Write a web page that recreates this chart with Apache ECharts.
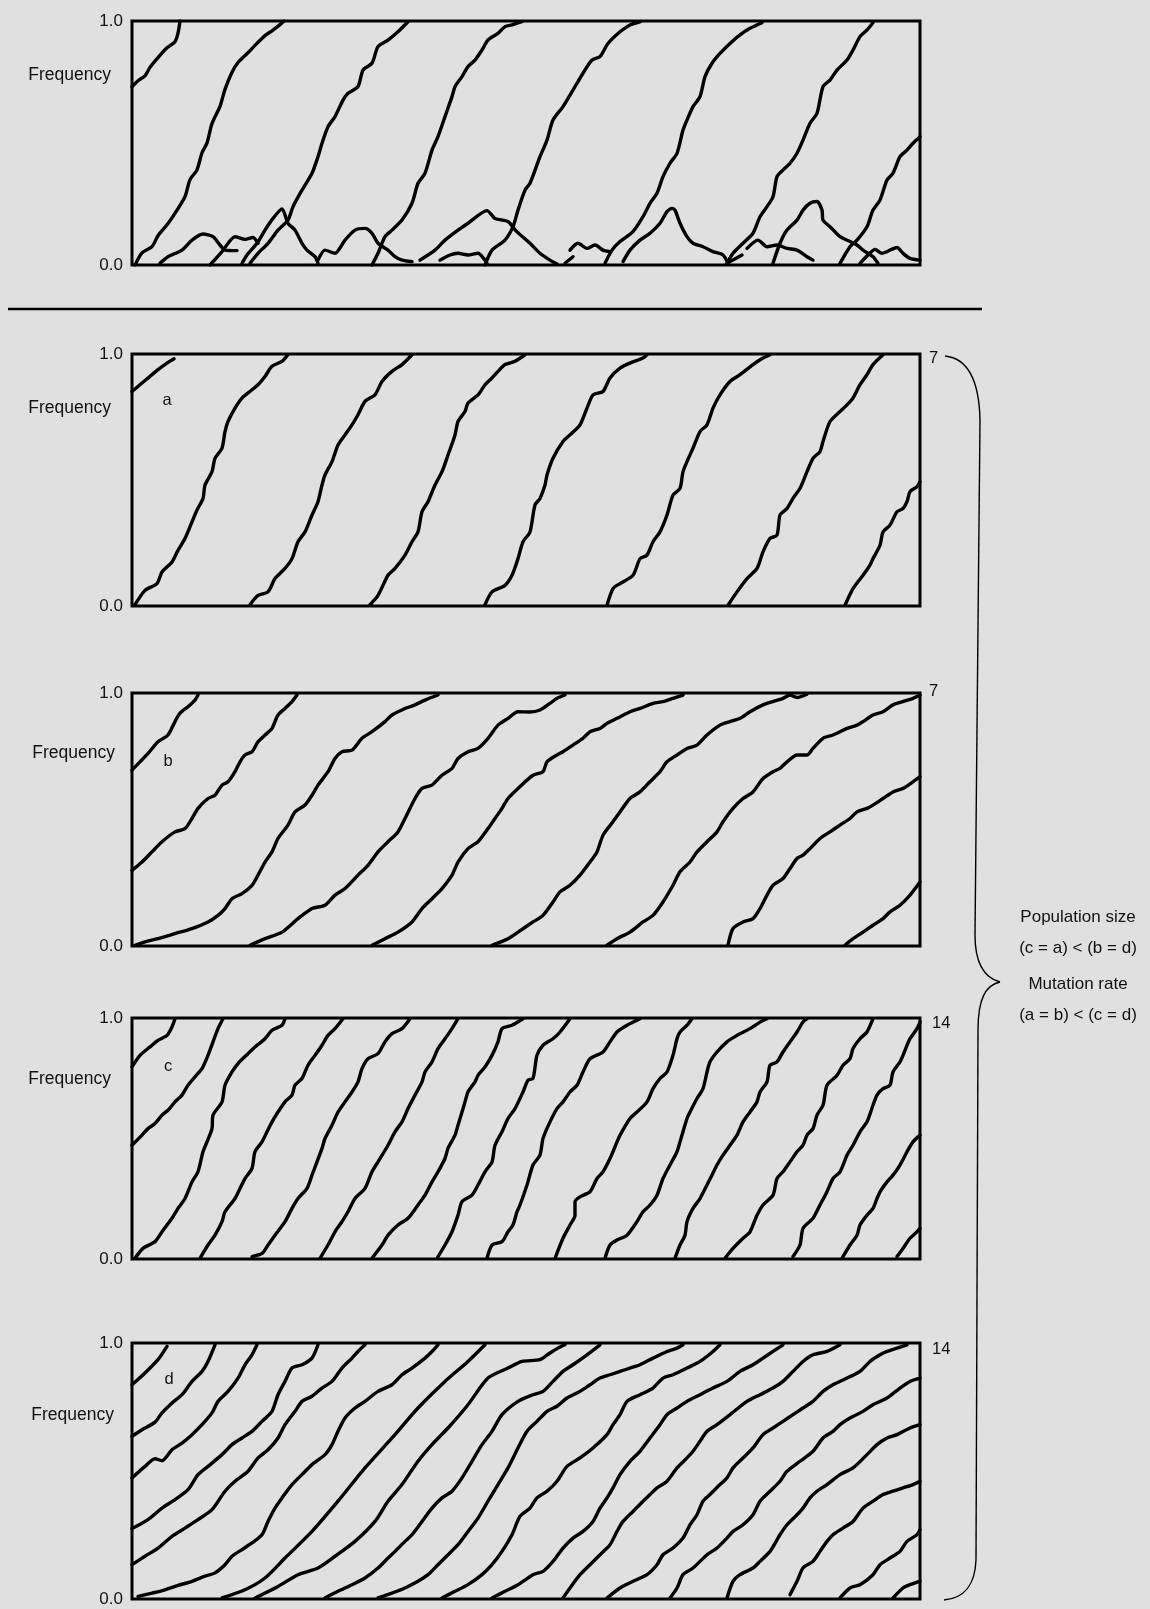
<!DOCTYPE html>
<html><head><meta charset="utf-8">
<style>html,body{margin:0;padding:0;background:#e0e0e0}#c{width:1150px;height:1609px}</style>
<script src="https://cdn.jsdelivr.net/npm/echarts/dist/echarts.min.js"></script>
</head><body><div id="c"></div>
<script>
// x = generations (arbitrary units across the panel), y = allele frequency
const topSweeps = [
[[0,.73],[6,.755],[13,.775],[18,.81],[26,.85],[35,.89],[43,.915],[46,.95],[48,1]],
[[3,0],[10,.05],[20,.075],[26,.12],[36,.17],[45,.225],[53,.28],[58,.35],[65,.39],[70,.46],[75,.5],[80,.58],[88,.65],[93,.72],[100,.79],[106,.83],[116,.87],[123,.9],[133,.94],[140,.96],[148,.985],[152,1]],
[[118,.007],[126,.048],[136,.089],[146,.143],[156,.184],[161,.239],[170,.307],[180,.376],[186,.444],[190,.499],[196,.567],[203,.608],[211,.676],[216,.704],[226,.731],[231,.799],[240,.827],[246,.895],[256,.922],[266,.956],[276,.997]],
[[240,0],[246,.048],[253,.116],[260,.143],[270,.184],[280,.253],[286,.335],[293,.376],[300,.471],[306,.526],[313,.608],[320,.69],[323,.731],[330,.772],[336,.813],[343,.84],[350,.881],[356,.922],[366,.949],[373,.977],[380,.984],[390,.997]],
[[353,0],[360,.061],[373,.102],[381,.157],[386,.225],[393,.307],[398,.335],[408,.444],[415,.512],[421,.594],[431,.649],[441,.717],[451,.786],[460,.84],[468,.854],[476,.908],[488,.956],[498,.984],[508,.997]],
[[473,.007],[480,.061],[488,.096],[501,.137],[511,.198],[518,.253],[525,.294],[531,.362],[538,.417],[545,.458],[551,.553],[555,.594],[561,.649],[568,.69],[573,.772],[580,.827],[588,.867],[598,.908],[608,.943],[618,.97],[630,.993]],
[[595,.007],[601,.048],[611,.089],[621,.13],[628,.198],[635,.239],[641,.28],[645,.362],[651,.389],[658,.417],[665,.458],[671,.512],[678,.581],[685,.622],[691,.731],[698,.758],[705,.799],[715,.84],[721,.881],[728,.936],[735,.963],[741,.993]],
[[708,.007],[718,.075],[725,.102],[735,.157],[741,.225],[748,.266],[755,.348],[761,.376],[768,.444],[775,.471],[781,.499],[788,.526]]
];
const topBumps = [
[[28,.007],[36,.034],[50,.061],[60,.102],[71,.127],[81,.116],[88,.082],[93,.061],[105,.059]],
[[78,0],[90,.055],[103,.116],[113,.105],[121,.113],[126,.089]],
[[110,.007],[115,.041],[125,.089],[133,.143],[141,.191],[150,.23],[156,.171],[163,.143],[170,.089],[175,.061],[183,.034],[186,.007]],
[[186,.02],[193,.061],[203,.048],[213,.102],[223,.143],[233,.15],[240,.13],[246,.089],[256,.061],[263,.034],[270,.02],[280,.014]],
[[288,.02],[303,.061],[313,.102],[326,.143],[336,.171],[355,.223],[363,.191],[376,.178],[384,.14],[398,.089],[408,.048],[418,.02],[425,.004]],
[[308,.02],[318,.041],[326,.048],[336,.041],[346,.048],[353,.02],[355,.007]],
[[433,.007],[441,.034]],
[[438,.061],[446,.089],[455,.068],[463,.082],[471,.061],[478,.055]],
[[491,.014],[498,.061],[508,.102],[518,.13],[528,.171],[535,.219],[540,.232],[543,.225],[548,.171],[555,.116],[561,.089],[571,.075],[581,.055],[591,.041],[596,.007]],
[[595,.007],[610,.041]],
[[615,.068],[626,.102],[635,.075],[645,.082],[655,.068],[665,.061],[675,.034],[681,.02]],
[[641,.007],[648,.089],[655,.143],[665,.184],[671,.225],[678,.253],[685,.26],[690,.225],[691,.184],[698,.157],[708,.116],[718,.096],[725,.082],[731,.061],[741,.034],[746,.007]],
[[728,.007],[736,.041],[743,.064],[750,.048],[755,.055],[765,.072],[771,.048],[778,.027],[788,.02]]
];
const panelA = [
[[0,.851],[10,.885],[18,.911],[26,.938],[35,.964],[42,.981]],
[[3,.005],[13,.062],[25,.089],[30,.135],[40,.175],[46,.221],[53,.268],[60,.334],[65,.381],[71,.427],[73,.48],[80,.533],[83,.586],[90,.626],[93,.692],[96,.732],[103,.785],[110,.825],[120,.858],[126,.878],[133,.911],[140,.951],[150,.971],[156,.997]],
[[118,.005],[126,.042],[136,.056],[143,.109],[153,.149],[160,.188],[166,.255],[173,.294],[180,.361],[186,.414],[190,.48],[193,.52],[200,.573],[206,.639],[213,.679],[220,.719],[226,.759],[233,.812],[243,.838],[250,.891],[260,.931],[270,.958],[280,.997]],
[[238,.005],[246,.042],[256,.122],[263,.149],[273,.202],[280,.255],[286,.294],[290,.374],[296,.414],[303,.48],[310,.533],[316,.599],[323,.679],[326,.732],[333,.772],[336,.805],[346,.838],[353,.878],[360,.905],[366,.931],[373,.958],[383,.971],[393,.997]],
[[353,.005],[360,.056],[373,.082],[380,.122],[386,.188],[391,.255],[398,.294],[403,.401],[408,.427],[413,.48],[415,.52],[421,.586],[431,.653],[438,.679],[448,.719],[455,.785],[461,.838],[471,.851],[478,.905],[488,.944],[498,.964],[511,.984],[515,.997]],
[[475,.003],[481,.069],[488,.089],[501,.122],[508,.188],[515,.202],[521,.255],[528,.294],[535,.361],[541,.44],[548,.467],[551,.533],[555,.573],[561,.626],[568,.692],[575,.719],[581,.785],[588,.838],[598,.891],[608,.918],[621,.958],[631,.984],[638,.997]],
[[596,.003],[605,.056],[615,.109],[625,.149],[631,.215],[638,.268],[645,.281],[648,.361],[655,.387],[661,.427],[668,.467],[675,.533],[681,.586],[688,.613],[691,.653],[698,.732],[708,.772],[715,.798],[721,.825],[728,.878],[735,.918],[741,.958],[751,.997]],
[[713,.003],[721,.069],[731,.122],[738,.162],[741,.188],[748,.241],[751,.294],[758,.321],[765,.374],[771,.387],[775,.414],[778,.454],[785,.473],[788,.493]]
];
const panelB = [
[[0,.695],[8,.728],[16,.761],[26,.807],[36,.834],[43,.887],[48,.92],[56,.946],[63,.972],[66,.992]],
[[0,.299],[10,.332],[20,.372],[30,.412],[43,.451],[53,.464],[60,.504],[66,.544],[76,.583],[83,.596],[90,.636],[96,.649],[103,.689],[108,.728],[113,.755],[120,.768],[126,.807],[133,.834],[140,.86],[146,.913],[153,.939],[160,.966],[165,.992]],
[[3,.003],[13,.016],[26,.029],[43,.049],[60,.069],[76,.095],[86,.121],[93,.148],[100,.187],[110,.207],[120,.24],[126,.28],[133,.332],[140,.372],[146,.425],[156,.478],[163,.53],[173,.557],[180,.596],[186,.636],[196,.689],[203,.741],[210,.768],[220,.774],[230,.821],[240,.847],[253,.887],[260,.913],[273,.939],[283,.953],[293,.972],[306,.992]],
[[118,.003],[133,.029],[150,.055],[166,.108],[180,.148],[193,.161],[203,.201],[213,.227],[226,.28],[236,.319],[246,.372],[256,.412],[266,.451],[273,.504],[283,.583],[290,.623],[300,.636],[310,.675],[320,.702],[326,.741],[336,.768],[346,.781],[356,.821],[366,.873],[376,.9],[386,.926],[398,.925],[408,.933],[418,.959],[425,.979],[433,.992]],
[[240,.003],[253,.029],[266,.055],[280,.095],[290,.148],[300,.187],[310,.227],[320,.28],[326,.332],[336,.385],[346,.412],[356,.464],[363,.504],[370,.544],[376,.583],[386,.623],[401,.675],[411,.689],[415,.728],[425,.755],[431,.768],[441,.794],[451,.821],[458,.847],[468,.86],[475,.88],[485,.9],[498,.926],[508,.939],[521,.959],[531,.966],[541,.979],[551,.992]],
[[360,.003],[376,.029],[386,.055],[401,.095],[411,.121],[421,.174],[428,.214],[438,.24],[448,.28],[458,.332],[465,.372],[471,.438],[481,.491],[488,.53],[498,.583],[508,.609],[518,.649],[528,.689],[535,.728],[545,.755],[555,.781],[565,.794],[575,.834],[588,.873],[598,.887],[608,.9],[618,.926],[631,.953],[641,.966],[651,.979],[658,.992],[665,.982],[675,.995]],
[[475,.003],[485,.029],[498,.055],[511,.095],[521,.121],[531,.174],[541,.24],[548,.293],[558,.332],[565,.372],[575,.412],[585,.451],[591,.491],[601,.544],[611,.583],[621,.609],[631,.662],[641,.689],[648,.702],[655,.728],[665,.755],[675,.755],[681,.781],[691,.821],[701,.834],[715,.86],[725,.873],[731,.887],[741,.913],[751,.926],[761,.953],[771,.966],[781,.979],[788,.992]],
[[596,.003],[601,.069],[611,.095],[621,.108],[628,.148],[635,.201],[641,.24],[651,.267],[658,.306],[665,.346],[671,.359],[678,.385],[688,.425],[698,.451],[708,.478],[718,.504],[725,.53],[735,.544],[741,.557],[751,.583],[761,.609],[771,.623],[781,.649],[788,.669]],
[[713,.003],[721,.029],[731,.055],[741,.082],[751,.108],[758,.135],[768,.161],[778,.201],[788,.253]]
];
const panelC = [
[[0,.797],[8,.845],[18,.88],[26,.907],[35,.928],[40,.963],[43,.997]],
[[0,.472],[10,.514],[16,.541],[23,.562],[30,.597],[36,.617],[43,.652],[50,.68],[56,.721],[63,.756],[70,.79],[76,.845],[81,.901],[86,.956],[91,.997]],
[[3,.003],[11,.044],[23,.072],[30,.113],[40,.169],[46,.21],[53,.251],[60,.32],[66,.362],[71,.445],[75,.486],[80,.541],[81,.597],[90,.652],[93,.721],[100,.776],[106,.811],[116,.852],[123,.88],[133,.914],[140,.949],[150,.97],[153,.997]],
[[68,.003],[76,.058],[83,.099],[90,.155],[93,.196],[103,.251],[108,.293],[113,.334],[120,.376],[123,.445],[130,.486],[135,.528],[140,.569],[146,.61],[153,.652],[160,.68],[163,.721],[170,.749],[176,.804],[183,.845],[190,.887],[196,.928],[203,.956],[211,.997]],
[[120,.01],[130,.023],[136,.058],[143,.099],[153,.155],[160,.21],[166,.251],[175,.293],[180,.348],[185,.403],[190,.459],[193,.5],[200,.555],[206,.61],[213,.652],[220,.693],[226,.735],[230,.79],[236,.831],[246,.852],[253,.901],[260,.935],[270,.956],[278,.997]],
[[188,.003],[196,.058],[203,.113],[210,.155],[216,.196],[223,.251],[233,.293],[240,.362],[246,.403],[256,.472],[263,.528],[270,.569],[276,.624],[283,.68],[290,.735],[293,.776],[300,.818],[306,.873],[313,.914],[320,.956],[326,.997]],
[[240,.003],[250,.058],[256,.099],[266,.141],[276,.169],[286,.224],[293,.265],[300,.32],[306,.362],[313,.417],[316,.459],[323,.514],[326,.555],[330,.61],[333,.652],[336,.693],[343,.735],[346,.762],[353,.797],[360,.845],[366,.901],[370,.956],[380,.97],[391,.997]],
[[305,.003],[313,.058],[320,.113],[326,.182],[330,.238],[340,.265],[346,.307],[353,.362],[360,.403],[363,.472],[370,.528],[376,.583],[383,.624],[391,.693],[396,.742],[401,.749],[405,.845],[411,.887],[421,.914],[428,.942],[438,.997]],
[[355,.003],[360,.058],[370,.072],[376,.113],[381,.141],[385,.196],[388,.224],[395,.307],[401,.39],[408,.431],[411,.5],[418,.569],[425,.624],[431,.652],[438,.693],[445,.721],[451,.776],[458,.831],[471,.859],[478,.901],[485,.942],[495,.97],[508,.997]],
[[423,.003],[431,.086],[438,.141],[443,.182],[443,.238],[448,.258],[458,.279],[465,.334],[471,.362],[478,.417],[485,.486],[488,.514],[498,.583],[505,.61],[515,.652],[521,.707],[528,.749],[535,.776],[541,.845],[545,.914],[548,.942],[555,.97],[560,.997]],
[[473,.003],[478,.058],[485,.079],[495,.099],[505,.155],[511,.196],[518,.224],[525,.265],[531,.334],[538,.39],[545,.445],[548,.486],[551,.528],[555,.583],[558,.61],[565,.666],[571,.707],[575,.776],[578,.818],[585,.859],[595,.901],[605,.928],[618,.956],[628,.983],[635,.997]],
[[543,.003],[548,.058],[553,.099],[555,.155],[561,.21],[568,.251],[575,.307],[580,.348],[585,.39],[591,.431],[598,.472],[605,.514],[611,.569],[618,.61],[625,.652],[628,.693],[635,.735],[638,.804],[645,.818],[651,.859],[658,.901],[665,.942],[671,.983],[675,.997]],
[[593,.003],[601,.044],[611,.086],[618,.113],[625,.182],[631,.224],[641,.265],[645,.334],[651,.362],[658,.403],[665,.445],[671,.472],[675,.514],[681,.541],[685,.597],[691,.638],[695,.721],[705,.762],[711,.804],[718,.831],[721,.873],[728,.914],[735,.942],[741,.997]],
[[661,.01],[668,.058],[671,.127],[681,.169],[688,.224],[695,.279],[701,.334],[708,.362],[715,.431],[721,.472],[728,.528],[735,.569],[741,.638],[745,.68],[751,.707],[758,.721],[761,.776],[768,.818],[771,.845],[775,.887],[778,.914],[785,.956],[788,.983]],
[[710,.003],[718,.058],[725,.099],[728,.141],[735,.182],[741,.21],[745,.251],[748,.279],[755,.32],[761,.348],[768,.39],[775,.445],[781,.486],[788,.514]],
[[765,.01],[771,.044],[778,.086],[785,.113],[788,.127]]
];
const panelD = [
[[0,.837],[13,.883],[26,.935],[35,.987]],
[[0,.635],[10,.661],[23,.691],[30,.727],[40,.766],[50,.798],[60,.85],[70,.889],[76,.928],[83,.993]],
[[0,.473],[13,.518],[23,.548],[30,.54],[40,.583],[50,.609],[60,.642],[70,.681],[80,.727],[86,.772],[96,.811],[106,.863],[113,.915],[120,.954],[125,.993]],
[[0,.275],[16,.31],[30,.355],[43,.388],[56,.427],[66,.486],[76,.518],[90,.564],[100,.603],[110,.629],[120,.655],[130,.694],[140,.733],[146,.798],[153,.85],[160,.902],[170,.915],[180,.941],[186,.993]],
[[0,.134],[13,.167],[26,.199],[40,.245],[53,.277],[66,.31],[80,.349],[93,.421],[103,.46],[116,.499],[126,.551],[136,.583],[146,.629],[153,.681],[163,.733],[170,.772],[180,.792],[190,.824],[200,.85],[210,.902],[220,.941],[226,.967],[233,.993]],
[[6,.01],[20,.023],[33,.036],[46,.053],[60,.069],[73,.089],[83,.102],[93,.134],[100,.167],[110,.193],[120,.219],[130,.251],[136,.303],[143,.355],[150,.395],[160,.447],[170,.486],[180,.525],[193,.564],[200,.603],[206,.655],[213,.707],[223,.746],[233,.772],[246,.811],[260,.837],[270,.876],[280,.902],[293,.941],[300,.967],[306,.993]],
[[90,.004],[113,.036],[133,.082],[153,.16],[180,.264],[206,.382],[233,.512],[260,.629],[286,.746],[313,.85],[336,.928],[353,.993]],
[[123,.004],[146,.049],[166,.095],[186,.121],[203,.167],[223,.225],[243,.303],[256,.382],[270,.447],[286,.538],[300,.603],[316,.668],[336,.759],[356,.863],[376,.902],[390,.928],[408,.935],[418,.961],[426,.98],[433,.993]],
[[193,.004],[206,.03],[220,.056],[233,.082],[246,.121],[256,.16],[263,.186],[273,.225],[280,.251],[290,.303],[300,.355],[310,.395],[320,.421],[330,.473],[340,.538],[350,.603],[360,.655],[370,.72],[386,.772],[401,.798],[411,.811],[421,.85],[431,.889],[441,.915],[455,.954],[468,.993]],
[[246,.004],[260,.023],[273,.043],[286,.069],[296,.095],[306,.134],[316,.173],[326,.212],[336,.264],[346,.316],[356,.382],[366,.447],[376,.512],[386,.59],[395,.655],[405,.694],[415,.733],[425,.753],[435,.785],[448,.811],[458,.837],[468,.863],[478,.876],[488,.889],[498,.902],[508,.915],[521,.941],[535,.967],[545,.98],[551,.993]],
[[310,.004],[323,.03],[336,.056],[350,.095],[360,.134],[370,.186],[380,.251],[388,.323],[398,.355],[405,.395],[415,.421],[425,.46],[435,.518],[448,.551],[461,.59],[475,.642],[481,.681],[488,.72],[495,.772],[508,.798],[521,.824],[531,.863],[541,.876],[555,.902],[568,.928],[581,.967],[588,.993]],
[[360,.004],[373,.03],[386,.056],[401,.095],[411,.108],[421,.147],[431,.199],[441,.238],[451,.264],[461,.303],[468,.355],[475,.395],[481,.434],[488,.486],[498,.538],[508,.577],[518,.629],[528,.681],[535,.72],[545,.746],[555,.772],[568,.798],[581,.824],[595,.85],[608,.889],[621,.915],[631,.941],[641,.967],[651,.993]],
[[431,.004],[438,.043],[448,.095],[458,.134],[468,.173],[478,.212],[485,.264],[491,.303],[501,.342],[511,.382],[518,.408],[525,.434],[535,.46],[545,.512],[555,.551],[561,.577],[568,.616],[575,.655],[585,.681],[598,.72],[615,.772],[628,.798],[641,.824],[651,.85],[661,.889],[671,.928],[681,.954],[695,.967],[708,.993]],
[[475,.004],[488,.043],[501,.069],[515,.095],[525,.134],[531,.173],[541,.199],[551,.238],[558,.29],[565,.329],[571,.382],[578,.408],[588,.447],[595,.473],[601,.512],[611,.551],[621,.59],[631,.642],[641,.668],[651,.694],[661,.72],[671,.746],[681,.772],[691,.811],[701,.837],[715,.863],[728,.889],[738,.928],[748,.954],[755,.967],[765,.98],[775,.993]],
[[538,.004],[545,.043],[551,.095],[561,.121],[575,.173],[585,.199],[595,.238],[601,.264],[611,.29],[621,.329],[628,.382],[638,.421],[648,.46],[655,.499],[668,.538],[681,.577],[691,.629],[701,.655],[708,.681],[718,.707],[731,.733],[741,.759],[755,.785],[768,.824],[778,.85],[788,.863]],
[[595,.004],[601,.069],[608,.095],[621,.121],[628,.147],[638,.186],[648,.251],[655,.29],[665,.329],[671,.355],[678,.395],[685,.421],[695,.447],[708,.486],[721,.512],[735,.564],[745,.603],[755,.629],[765,.642],[778,.668],[788,.681]],
[[658,.017],[665,.069],[671,.121],[681,.147],[688,.186],[695,.225],[701,.251],[711,.277],[721,.303],[731,.355],[741,.382],[751,.408],[761,.421],[771,.434],[781,.447],[788,.46]],
[[708,.004],[718,.043],[728,.056],[741,.095],[748,.134],[758,.16],[768,.186],[775,.225],[785,.251],[788,.271]],
[[761,.004],[771,.043],[778,.056],[788,.069]]
];
const panelLetters = ['a','b','c','d'];
const sideCounts = ['7','7','14','14'];
const sideText = ['Population size','(c = a) < (b = d)','Mutation rate','(a = b) < (c = d)'];
const yLabel = 'Frequency';

const FONT = '"Liberation Sans", Arial, Helvetica, sans-serif';
const layout = [
  {top:21, height:244, freqY:75, freqX:111},
  {top:354, height:252, freqY:408, freqX:111, letter:[167,400], count:[929,358]},
  {top:693, height:253, freqY:753, freqX:115, letter:[168,761], count:[929,691]},
  {top:1018, height:241, freqY:1079, freqX:111, letter:[168,1066], count:[932,1023]},
  {top:1343, height:256, freqY:1415, freqX:114, letter:[169,1379], count:[932,1349]}
];
const curveSets = [topSweeps.concat(topBumps), panelA, panelB, panelC, panelD];

const grids = [], xAxes = [], yAxes = [], series = [];
layout.forEach((p, i) => {
  grids.push({left:132, width:788, top:p.top, height:p.height, show:true, borderColor:'#000', borderWidth:3, backgroundColor:'transparent'});
  xAxes.push({gridIndex:i, type:'value', min:0, max:788, show:false});
  yAxes.push({gridIndex:i, type:'value', min:0, max:1, interval:1,
    axisLine:{show:false}, axisTick:{show:false}, splitLine:{show:false},
    axisLabel:{formatter:v => v.toFixed(1), fontSize:17, color:'#111', margin:9, fontFamily:FONT}});
  curveSets[i].forEach(c => series.push({type:'line', xAxisIndex:i, yAxisIndex:i, data:c,
    showSymbol:false, smooth:0.25, silent:true, clip:true,
    lineStyle:{color:'#000', width:3.4, cap:'round', join:'round'}}));
});

const graphics = [];
layout.forEach((p, i) => {
  graphics.push({type:'text', x:p.freqX, y:p.freqY, style:{text:yLabel, font:'17.5px '+FONT, fill:'#111', textAlign:'right', textVerticalAlign:'middle'}});
  if (p.letter) {
    graphics.push({type:'text', x:p.letter[0], y:p.letter[1], style:{text:panelLetters[i-1], font:'16.5px '+FONT, fill:'#111', textAlign:'center', textVerticalAlign:'middle'}});
    graphics.push({type:'text', x:p.count[0], y:p.count[1], style:{text:sideCounts[i-1], font:'16.5px '+FONT, fill:'#111', textAlign:'left', textVerticalAlign:'middle'}});
  }
});
graphics.push({type:'line', shape:{x1:8, y1:309, x2:982, y2:309}, style:{stroke:'#000', lineWidth:2.6}});
const braceStyle = {stroke:'#000', lineWidth:1.4, fill:null};
graphics.push({type:'bezierCurve', shape:{x1:945, y1:356, cpx1:965, cpy1:358, cpx2:979, cpy2:375, x2:980, y2:420}, style:braceStyle});
graphics.push({type:'line', shape:{x1:980, y1:420, x2:975, y2:935}, style:braceStyle});
graphics.push({type:'bezierCurve', shape:{x1:975, y1:935, cpx1:975, cpy1:965, cpx2:985, cpy2:978, x2:1000, y2:982}, style:braceStyle});
graphics.push({type:'bezierCurve', shape:{x1:1000, y1:982, cpx1:986, cpy1:985, cpx2:978, cpy2:998, x2:978, y2:1030}, style:braceStyle});
graphics.push({type:'line', shape:{x1:978, y1:1030, x2:976, y2:1560}, style:braceStyle});
graphics.push({type:'bezierCurve', shape:{x1:976, y1:1560, cpx1:975, cpy1:1585, cpx2:965, cpy2:1598, x2:944, y2:1600}, style:braceStyle});
const sideY = [917, 948, 984, 1015];
sideText.forEach((t, k) => graphics.push({type:'text', x:1078, y:sideY[k], style:{text:t, font:'17px '+FONT, fill:'#111', textAlign:'center', textVerticalAlign:'middle'}}));

const chart = echarts.init(document.getElementById('c'), null, {renderer:'canvas'});
chart.setOption({backgroundColor:'#e0e0e0', animation:false, grid:grids, xAxis:xAxes, yAxis:yAxes, series:series, graphic:graphics});
</script></body></html>
